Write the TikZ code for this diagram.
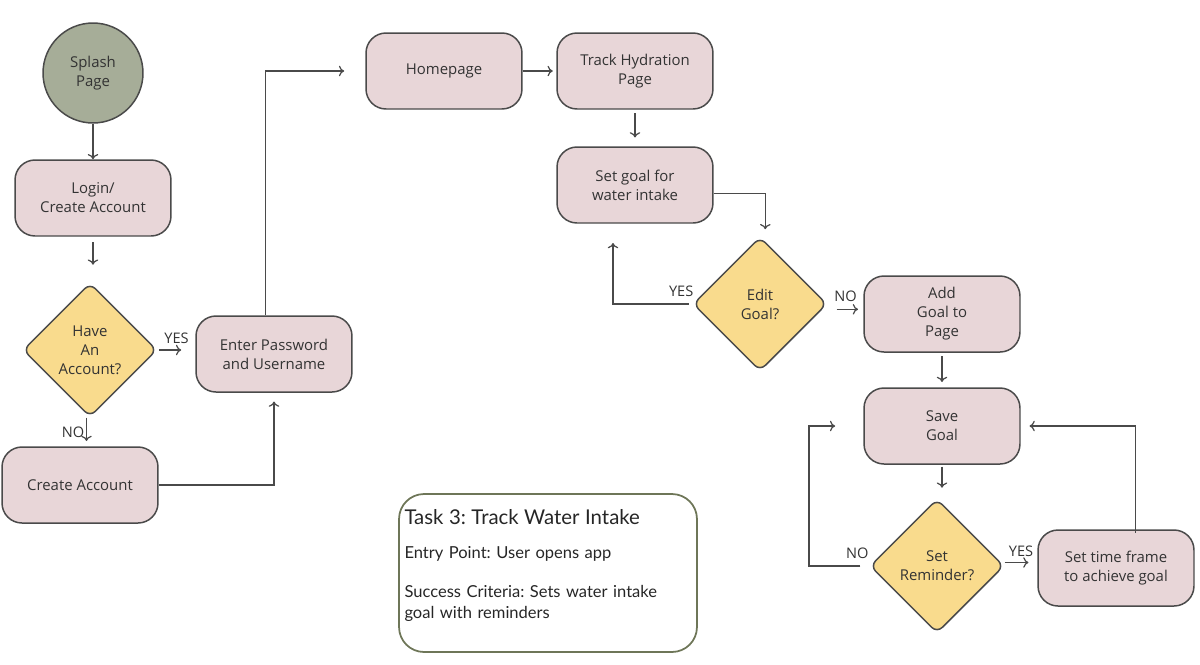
\documentclass[tikz,border=0pt]{standalone}
\usepackage{fontspec}
\setmainfont{Open Sans}
\newfontfamily\taskFont{Lato}
\usetikzlibrary{shapes.geometric,arrows.meta,positioning}
\frenchspacing

\definecolor{boxPink}{HTML}{E8D6D8}
\definecolor{edgeGray}{HTML}{4A4A4A}
\definecolor{choiceYellow}{HTML}{F9DB8D}
\definecolor{splashGreen}{HTML}{A6AD98}
\definecolor{taskBorder}{HTML}{6E7658}
\definecolor{textGray}{HTML}{333333}

\def\boxWidth{3.12cm}
\def\boxHeight{1.52cm}
\def\choiceSize{2.68cm}

\tikzset{
    pageBox/.style = {draw = edgeGray, line width = 0.85pt, fill = boxPink,
        rounded corners = 4mm, minimum width = \boxWidth,
        minimum height = \boxHeight, align = center, text = textGray,
        font = \fontsize{8.5}{10.8}\selectfont},
    choiceBox/.style = {draw = edgeGray, line width = 0.85pt, diamond,
        aspect = 1, fill = choiceYellow, rounded corners = 1.5mm,
        minimum size = \choiceSize, inner sep = 0pt, align = center,
        text = textGray, font = \fontsize{8.5}{10.8}\selectfont},
    flowArrow/.style = {draw = edgeGray, line width = 0.7pt,
        -{To[length = 3pt, width = 6pt]}},
    choiceLabel/.style = {text = textGray, inner sep = 1pt,
        font = \fontsize{8.3}{10}\selectfont},
}

\begin{document}
\begin{tikzpicture}[x = 0.02cm, y = -0.02cm]
    \useasboundingbox (0,0) rectangle (1200,664);

    % left column
    \node [circle, draw = edgeGray, line width = 0.85pt, fill = splashGreen,
        minimum size = 2cm, align = center, text = textGray,
        font = \fontsize{8.5}{10.8}\selectfont]
        (splash) at (93,73) {Splash\\Page};
    \node [pageBox] (login) at (93,198) {Login/\\Create Account};
    \node [choiceBox] (haveAccount) at (90,350) {Have\\An\\Account?};
    \node [pageBox] (enterPassword) at (274,354) {Enter Password\\and Username};
    \node [pageBox] (createAccount) at (80,485) {Create Account};

    % top row
    \node [pageBox] (homepage) at (444,71) {Homepage};
    \node [pageBox] (trackHydration) at (635,71) {Track Hydration\\Page};
    \node [pageBox] (setGoal) at (635,185) {Set goal for\\water intake};
    \node [choiceBox] (editGoal) at (760,304) {Edit\\Goal?};

    % right column
    \node [pageBox] (addGoal) at (942,314) {Add\\Goal to\\Page};
    \node [pageBox] (saveGoal) at (942,426) {Save\\Goal};
    \node [choiceBox] (setReminder) at (937,566) {Set\\Reminder?};
    \node [pageBox] (setTimeFrame) at (1116,568) {Set time frame\\to achieve goal};

    % task card
    \node [draw = taskBorder, line width = 1pt, rounded corners = 5mm,
        minimum width = 5.96cm, minimum height = 3.16cm]
        (taskCard) at (548,573) {};
    \node [anchor = north west, inner sep = 0pt, text width = 5.8cm,
        align = left, text = black!85,
        font = \taskFont\fontsize{9.4}{11.6}\selectfont]
        (taskText) at ([xshift = 0.12cm, yshift = -0.32cm]taskCard.north west)
        {{\fontsize{11.6}{13}\selectfont Task 3: Track Water Intake}\\[8pt]
        Entry Point: User opens app\\[10.5pt]
        Success Criteria: Sets water intake\\goal with reminders};

    \coordinate (editYesEnd) at (613,243);
    \coordinate (reminderNoCorner) at (809,566);

    % connectors
    \draw [flowArrow] (splash) -- (login);
    \draw [flowArrow, shorten <= 3pt, shorten >= 10pt]
        (login.south) -- (login.south |- haveAccount.north);
    \draw [flowArrow, shorten <= 1pt, shorten >= 8pt]
        (haveAccount.east) -- (haveAccount.east -| enterPassword.west)
        node [choiceLabel, midway, above = 2pt] {YES};
    \draw [flowArrow, shorten >= 3pt]
        ([xshift = -2pt]haveAccount.south) -- ([xshift = -2pt]haveAccount.south |- createAccount.north)
        node [choiceLabel, midway, left = 0pt] {NO};
    \draw [flowArrow, shorten >= 5pt]
        (createAccount.east) -| (enterPassword.south);
    \draw [flowArrow, shorten >= 12pt]
        ([xshift = -5pt]enterPassword.north) |- (homepage.west);
    \draw [flowArrow, shorten >= 2pt] (homepage) -- (trackHydration);
    \draw [flowArrow, shorten <= 2pt, shorten >= 5pt] (trackHydration) -- (setGoal);
    \draw [flowArrow, shorten >= 4pt]
        ([yshift = -5pt]setGoal.east) -| ([xshift = 3pt]editGoal.north);
    \draw [flowArrow, shorten <= 2pt]
        (editGoal.west) -| (editYesEnd)
        node [choiceLabel, pos = 0.07, above = 3pt] {YES};
    \draw [flowArrow, shorten <= 5pt, shorten >= 3pt]
        ([yshift = -3pt]editGoal.east) -- ([yshift = -3pt]editGoal.east -| addGoal.west)
        node [choiceLabel, midway, above = 3pt] {NO};
    \draw [flowArrow, shorten <= 2pt, shorten >= 3pt] (addGoal) -- (saveGoal);
    \draw [flowArrow, shorten <= 1pt, shorten >= 6pt]
        (saveGoal.south) -- (saveGoal.south |- setReminder.north);
    \draw [flowArrow, shorten >= 5pt]
        ([yshift = 2pt]setReminder.east) -- ([yshift = 2pt]setReminder.east -| setTimeFrame.west)
        node [choiceLabel, midway, above = 2pt] {YES};
    \draw [flowArrow, shorten >= 5pt]
        ([xshift = 11pt, yshift = -2pt]setTimeFrame.north) |- (saveGoal.east);
    \draw [flowArrow, shorten <= 5pt, shorten >= 16pt]
        (setReminder.west) -- (reminderNoCorner)
        node [choiceLabel, pos = 0.2, above = 3pt] {NO}
        |- (saveGoal.west);
\end{tikzpicture}
\end{document}
